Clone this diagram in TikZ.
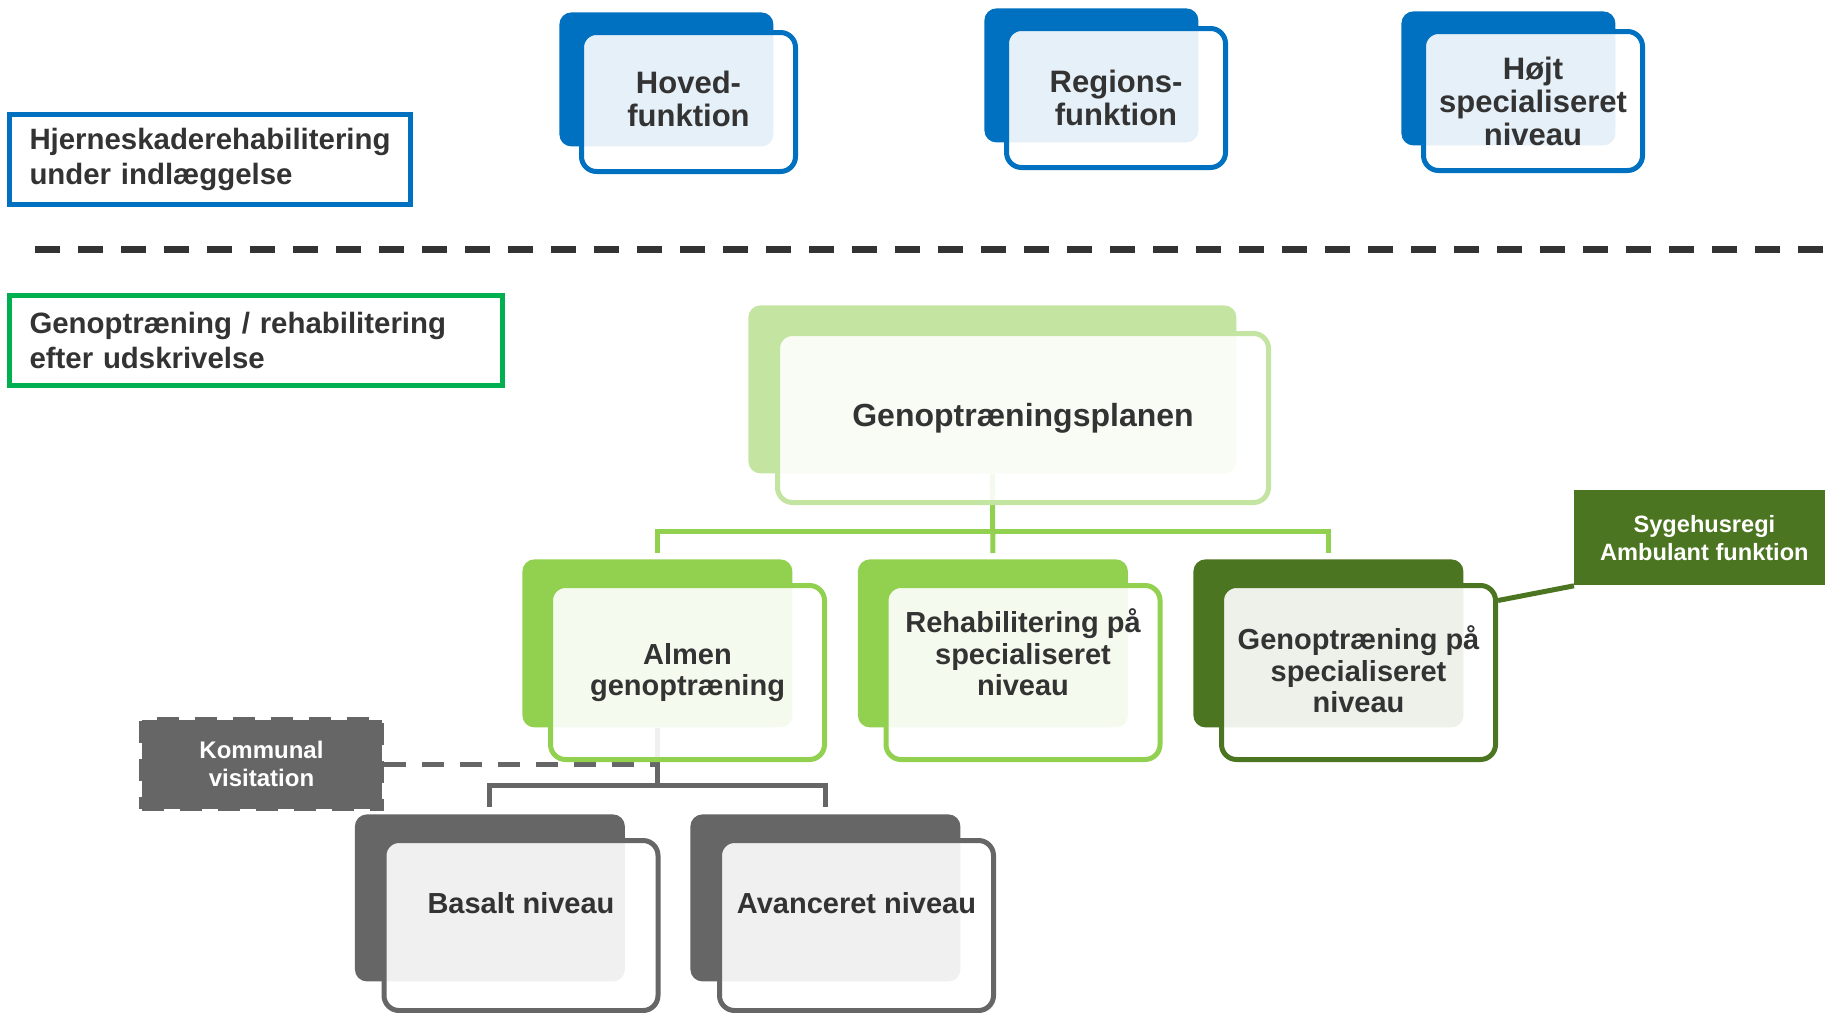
\documentclass[tikz,border=0pt]{standalone}
\usepackage{fontspec}
\setmainfont{Liberation Sans}
\usetikzlibrary{positioning,calc,backgrounds}
\definecolor{hblue}{HTML}{0070C0}
\definecolor{pgreen}{HTML}{C4E5A1}
\definecolor{kgreen}{HTML}{92D050}
\definecolor{dgreen}{HTML}{4B7521}
\definecolor{kgray}{HTML}{666666}
\definecolor{lgreen}{HTML}{00B050}
\definecolor{txtgray}{HTML}{333333}
\hyphenpenalty=10000
\tikzset{
  backbox/.style={fill=#1, rounded corners=6pt, inner sep=0pt, anchor=north west},
  frontbox/.style={draw=#1, fill=white, fill opacity=0.9, line width=2.5pt,
    rounded corners=7.5pt, inner sep=0pt, anchor=north west},
  txt/.style={align=center, text=txtgray, inner sep=0pt},
  lab/.style={anchor=north west, line width=2.5pt, align=left, text=txtgray,
    inner xsep=10pt, font=\bfseries\fontsize{14.7}{17.5}\selectfont},
}

\begin{document}
\begin{tikzpicture}[
  x=0.5pt, y=-0.5pt,
  topb/.style={minimum width=107pt, minimum height=67pt},
  topf/.style={minimum width=109.5pt, minimum height=69.5pt},
  topt/.style={txt, font=\bfseries\fontsize{15.5}{16.5}\selectfont},
  kidb/.style={minimum width=135pt, minimum height=84pt},
  kidf/.style={minimum width=137pt, minimum height=87pt},
  kidt/.style={txt, font=\bfseries\fontsize{14.5}{15.7}\selectfont},
  botb/.style={minimum width=135pt, minimum height=83.5pt},
  botf/.style={minimum width=137pt, minimum height=85pt},
  kidline/.style={draw=kgreen, line width=2.5pt, shorten >=3pt},
  botline/.style={draw=kgray, line width=2.5pt, shorten >=3.5pt},
  whitetxt/.style={align=center, text=white, font=\bfseries\fontsize{12}{14}\selectfont}
]
\useasboundingbox (0,0) rectangle (1825,1012);

% indlaeggelse
\node[lab, draw=hblue, minimum width=200.5pt, minimum height=45pt, text width=180.5pt] (inlagt) at (7,112) {Hjerneskaderehabilitering\\under indlæggelse};

\node[backbox=hblue, topb] (hovedB) at (559,12) {};
\node[frontbox=hblue, topf, minimum width=107pt] (hovedF) at ($(hovedB.north west)+(20,18)$) {};
\node[topt] (hovedT) at ($(hovedF.center)+(0,-3)$) {Hoved-\\funktion};

\node[backbox=hblue, topb] (regionB) at (984,8) {};
\node[frontbox=hblue, topf] (regionF) at ($(regionB.north west)+(20,18)$) {};
\node[topt] (regionT) at (regionF.center) {Regions-\\funktion};

\node[backbox=hblue, topb] (hojtB) at (1401,11) {};
\node[frontbox=hblue, topf] (hojtF) at ($(hojtB.north west)+(20,18)$) {};
\node[topt] (hojtT) at (hojtF.center) {Højt\\specialiseret\\niveau};

\draw[txtgray, line width=3.5pt, dash pattern=on 12.5pt off 9pt] (35,249) -- (1825,249);

% efter udskrivelse
\node[lab, draw=lgreen, minimum width=246.5pt, minimum height=45pt, text width=226.5pt] (udskr) at (7,293) {Genoptræning / rehabilitering\\efter udskrivelse};

\node[backbox=pgreen, minimum width=244pt, minimum height=84pt] (planB) at (748,305) {};
\node[frontbox=pgreen, minimum width=245.5pt, minimum height=84.5pt] (planF) at ($(planB.north west)+(27,26)$) {};
\node[topt, font=\bfseries\fontsize{16}{17}\selectfont] (planT) at (planF.center) {Genoptræningsplanen};

\node[backbox=kgreen, kidb] (almenB) at (522,559) {};
\node[frontbox=kgreen, kidf] (almenF) at ($(almenB.north west)+(26,24)$) {};
\node[kidt] (almenT) at (almenF.center) {Almen\\genoptræning};

\node[backbox=kgreen, kidb] (rehabB) at (857.5,559) {};
\node[frontbox=kgreen, kidf] (rehabF) at ($(rehabB.north west)+(26,24)$) {};
\node[kidt] (rehabT) at ($(rehabF.center)+(0,-20)$) {Rehabilitering på\\specialiseret\\niveau};

\node[backbox=dgreen, kidb] (gsB) at (1193,559) {};
\node[frontbox=dgreen, kidf] (gsF) at ($(gsB.north west)+(26,24)$) {};
\node[kidt] (gsT) at ($(gsF.center)+(0,-3)$) {Genoptræning på\\specialiseret\\niveau};

\node[backbox=dgreen, minimum width=130pt, minimum height=47.5pt, rounded corners=0pt,
  whitetxt, font=\bfseries\fontsize{11.8}{14}\selectfont] (sygehus) at (1574,490) {Sygehusregi\\Ambulant funktion};

\node[fill=kgray, draw=kgray, line width=2.5pt, dash pattern=on 11pt off 8pt,
  minimum width=120pt, minimum height=44.5pt, whitetxt] (kommunal) at (261.5,764) {Kommunal\\visitation};

\node[backbox=kgray, botb] (basaltB) at (354.5,814) {};
\node[frontbox=kgray, botf] (basaltF) at ($(basaltB.north west)+(27,24)$) {};
\node[txt, font=\bfseries\fontsize{14.5}{16}\selectfont] (basaltT) at ($(basaltF.center)+(0,-22)$) {Basalt niveau};

\node[backbox=kgray, botb] (avancB) at (690,814) {};
\node[frontbox=kgray, botf] (avancF) at ($(avancB.north west)+(27,24)$) {};
\node[txt, font=\bfseries\fontsize{14.5}{16}\selectfont] (avancT) at ($(avancF.center)+(0,-22)$) {Avanceret niveau};

\begin{scope}[on background layer]
\draw[kidline] (planB.south) -- ++(0,58) -| (almenB.north);
\draw[kidline] (planB.south) -- ++(0,58) -| (gsB.north);
\draw[kidline] (planB.south) -- (rehabB.north);
\draw[botline] (almenB.south) -- ++(0,58) -| (basaltB.north);
\draw[botline] (almenB.south) -- ++(0,58) -| (avancB.north);
\draw[kgray, line width=2.5pt, dash pattern=on 11pt off 8pt] (kommunal.east) -- (kommunal.east -| almenB.south);
\draw[dgreen, line width=2.5pt] (sygehus.south west) -- ([yshift=-8.75pt]gsF.north east);
\end{scope}
\end{tikzpicture}
\end{document}
